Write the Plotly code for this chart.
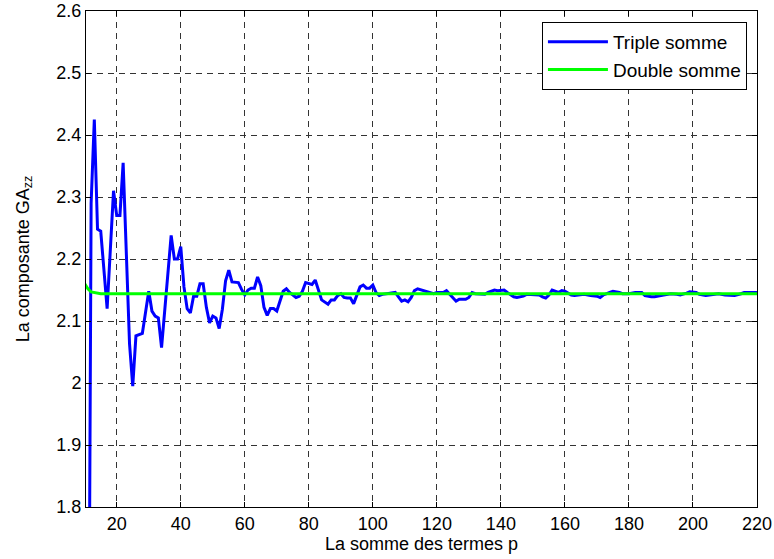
import plotly.graph_objects as go

# Triple somme (blue)
p_triple = [11, 12, 13, 14, 15, 17, 19, 20, 21, 22, 24, 25, 26, 28, 30, 31, 32, 33, 34, 37,
            38, 39, 40, 41, 42, 43, 44, 45, 46, 47, 48, 49, 50, 51, 52, 53, 54, 55, 56, 58,
            59, 60, 61, 62, 63, 64, 65, 66, 67, 68, 69, 70, 72, 73, 74, 76, 77, 78, 79, 80,
            81, 82, 83, 84, 86, 87, 88, 89, 90, 91, 92, 93, 94, 95, 96, 97, 98, 99, 100,
            101, 102, 103, 104, 106, 107, 108, 109, 110, 111, 112, 113, 114, 116, 117, 119,
            120, 122, 123, 124, 125, 126, 127, 129, 130, 131, 132, 134, 135, 136, 138, 139,
            140, 141, 142, 144, 145, 147, 148, 150, 152, 153, 154, 155, 156, 158, 159, 160,
            162, 163, 164, 166, 168, 170, 171, 172, 174, 175, 177, 178, 180, 182, 184, 185,
            187, 188, 190, 192, 193, 195, 196, 198, 199, 201, 202, 204, 205, 207, 208, 210,
            212, 213, 215, 216, 218, 220]
ga_triple = [1.2, 2.29, 2.425, 2.248, 2.245, 2.12, 2.31, 2.27, 2.27, 2.355, 2.063, 1.995, 2.076, 2.08, 2.148, 2.116, 2.108, 2.105, 2.057, 2.238,
             2.2, 2.2, 2.22, 2.155, 2.12, 2.113, 2.14, 2.14, 2.16, 2.16, 2.122, 2.097, 2.108, 2.105, 2.088, 2.119, 2.165, 2.182, 2.163, 2.162,
             2.151, 2.142, 2.15, 2.153, 2.153, 2.171, 2.157, 2.122, 2.109, 2.12, 2.12, 2.116, 2.148, 2.152, 2.146, 2.138, 2.14, 2.148, 2.162, 2.16,
             2.159, 2.166, 2.149, 2.134, 2.127, 2.134, 2.134, 2.141, 2.144, 2.138, 2.137, 2.137, 2.128, 2.141, 2.155, 2.158, 2.153, 2.153, 2.158,
             2.146, 2.141, 2.143, 2.144, 2.145, 2.146, 2.139, 2.132, 2.134, 2.131, 2.138, 2.149, 2.152, 2.149, 2.148, 2.144,
             2.146, 2.146, 2.149, 2.143, 2.138, 2.132, 2.135, 2.135, 2.138, 2.146, 2.144, 2.143, 2.143, 2.146, 2.15, 2.149,
             2.15, 2.15, 2.146, 2.139, 2.138, 2.14, 2.143, 2.143, 2.142, 2.139, 2.137, 2.142, 2.15, 2.146, 2.149, 2.148,
             2.142, 2.141, 2.142, 2.143, 2.141, 2.14, 2.138, 2.142, 2.146, 2.148, 2.146, 2.144, 2.144, 2.146, 2.146, 2.141,
             2.139, 2.139, 2.141, 2.143, 2.144, 2.143, 2.142, 2.145, 2.147, 2.146, 2.143, 2.141, 2.142, 2.143, 2.144, 2.142,
             2.141, 2.141, 2.144, 2.146, 2.146, 2.146]

# Double somme (green)
p_double = [10, 11, 12, 13, 14, 15, 220]
ga_double = [2.16, 2.152, 2.147, 2.146, 2.145, 2.144, 2.144]

x_ticks = [20, 40, 60, 80, 100, 120, 140, 160, 180, 200, 220]
y_ticks = [1.8, 1.9, 2.0, 2.1, 2.2, 2.3, 2.4, 2.5, 2.6]
y_ticklabels = ["1.8", "1.9", "2", "2.1", "2.2", "2.3", "2.4", "2.5", "2.6"]

FONT = "Liberation Sans, Arial, sans-serif"

fig = go.Figure()
fig.add_trace(go.Scatter(x=p_triple, y=ga_triple, mode="lines", name="Triple somme",
                         line=dict(color="#0000FF", width=3)))
fig.add_trace(go.Scatter(x=p_double, y=ga_double, mode="lines", name="Double somme",
                         line=dict(color="#00FF00", width=3)))

axis_common = dict(
    showline=True, linecolor="black", linewidth=1, mirror="allticks",
    ticks="inside", ticklen=5, tickcolor="black",
    showgrid=True, gridcolor="#333333", gridwidth=1, griddash="6px,5px",
    zeroline=False, automargin=False,
    tickfont=dict(family=FONT, size=18, color="black"),
)

fig.update_layout(
    width=774, height=559,
    margin=dict(l=86, r=17, t=11, b=52, autoexpand=False),
    paper_bgcolor="white", plot_bgcolor="white",
    font=dict(family=FONT, size=18, color="black"),
    xaxis=dict(range=[10.4, 220], tickvals=x_ticks,
               title=dict(text="La somme des termes p", font=dict(family=FONT, size=18), standoff=2),
               **axis_common),
    yaxis=dict(range=[1.8, 2.6], tickvals=y_ticks, ticktext=y_ticklabels,
               title=dict(text="La composante GA<sub>zz</sub>", font=dict(family=FONT, size=18), standoff=22),
               **axis_common),
    legend=dict(x=0.985, y=0.978, xanchor="right", yanchor="top",
                bgcolor="white", bordercolor="black", borderwidth=1,
                font=dict(family=FONT, size=19, color="black"),
                itemwidth=60, tracegroupgap=2),
    showlegend=True,
)

fig.write_html("out.html", config={"displayModeBar": False},
               post_script="document.body.style.margin='0';document.body.style.overflow='hidden';")
